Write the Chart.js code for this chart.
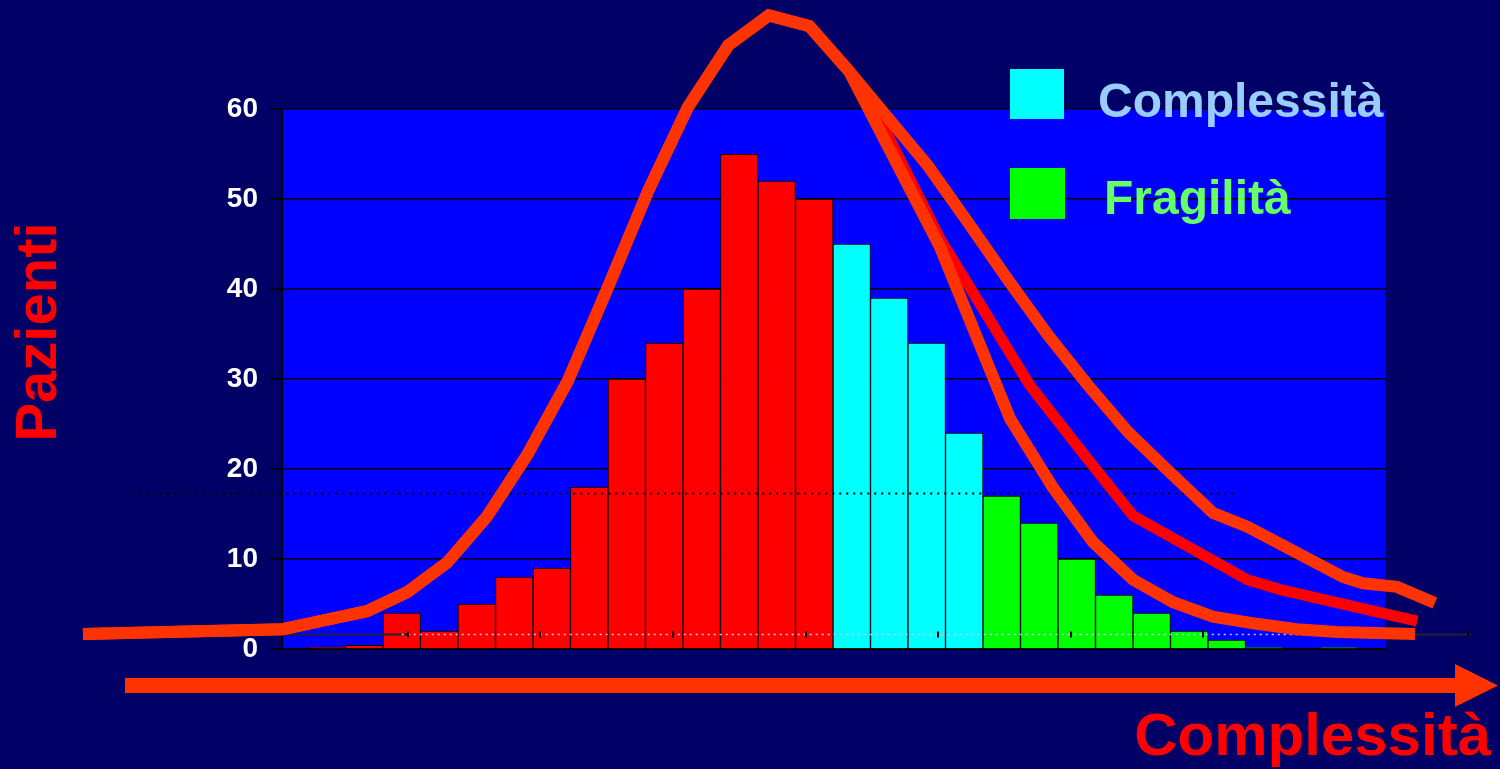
<!DOCTYPE html>
<html>
<head>
<meta charset="utf-8">
<script src="https://cdn.jsdelivr.net/npm/chart.js@4.4.1/dist/chart.umd.min.js"></script>
<style>
  html, body { margin: 0; padding: 0; background: #000066; overflow: hidden; }
  #wrap { position: relative; width: 1500px; height: 769px; }
</style>
</head>
<body>
<div id="wrap"><canvas id="chart"></canvas></div>
<script>
// Classi di complessità (una barra per classe)
const classi = [0, 1, 2, 3, 4, 5, 6, 7, 8, 9, 10, 11, 12, 13, 14, 15, 16, 17, 18, 19, 20, 21, 22, 23, 24, 25, 26, 27];

// Numero di pazienti per classe, diviso per gruppo
const pazientiBase =       [0.2, 0.4, 4, 2, 5, 8, 9, 18, 30, 34, 40, 55, 52, 50, null, null, null, null, null, null, null, null, null, null, null, null, null, null];
const pazientiComplessita = [null, null, null, null, null, null, null, null, null, null, null, null, null, null, 45, 39, 34, 24, null, null, null, null, null, null, null, null, null, null];
const pazientiFragilita =   [null, null, null, null, null, null, null, null, null, null, null, null, null, null, null, null, null, null, 17, 14, 10, 6, 4, 2, 1, 0.15, 0, 0.15];

// Tratto comune delle tre curve (salita e picco)
const curvaComuneX = [-6.5, -1.17, -0.05, 1.07, 2.14, 3.21, 4.27, 5.35, 6.43, 7.5, 8.57, 9.63, 10.71, 11.79, 12.87, 13.93];
const curvaComuneY = [1.67, 2.2, 3.2, 4.2, 6.3, 9.6, 14.7, 21.6, 29.8, 40.2, 50.9, 60.2, 67.1, 70.4, 69.2, 64.2];

// Discese: curva esterna, curva intermedia, curva interna
const discesaEsternaX = [14.97, 16.03, 17.1, 18.17, 19.23, 20.3, 21.37, 22.44, 23.64, 24.55, 27.1, 27.63, 28.54, 29.55];
const discesaEsternaY = [59.0, 53.7, 47.4, 41.0, 34.9, 29.3, 24.1, 19.8, 15.1, 13.6, 8.0, 7.3, 6.9, 5.1];
const discesaMediaX = [14.92, 16.35, 18.75, 20.27, 21.5, 24.55, 25.43, 29.08];
const discesaMediaY = [57.4, 45.6, 29.3, 21.2, 14.8, 7.7, 6.6, 3.1];
const discesaInternaX = [14.97, 16.35, 18.22, 19.37, 20.43, 21.5, 22.57, 23.63, 24.8, 25.87, 26.94, 29.02];
const discesaInternaY = [55.8, 44.7, 25.6, 17.9, 11.9, 7.7, 5.2, 3.6, 2.8, 2.2, 1.9, 1.67];

// Tacche dell'asse verticale
const tickPazienti = [0, 10, 20, 30, 40, 50, 60];

const toPoints = (xs, ys) => xs.map((x, i) => ({ x: x, y: ys[i] })).filter(p => p.y !== null);

const FONT = '"Liberation Sans", Arial, Helvetica, sans-serif';
const X_MIN = -1.193, X_MAX = 28.22;

// Sfondo, linee di riferimento, legenda, titoli e freccia
const decorazioni = {
  id: 'decorazioni',
  beforeDraw(chart) {
    const { ctx, chartArea: a } = chart;
    ctx.save();
    ctx.fillStyle = '#000066';
    ctx.fillRect(0, 0, chart.width, chart.height);
    ctx.fillStyle = '#0000FF';
    ctx.fillRect(a.left, a.top, a.right - a.left, a.bottom - a.top);
    ctx.restore();
    chart.$riferimenti = false;
  },
  beforeDatasetDraw(chart, args) {
    if (args.meta.type !== 'line' || chart.$riferimenti) return;
    chart.$riferimenti = true;
    const { ctx } = chart;
    const xs = chart.scales.x, ys = chart.scales.y;
    ctx.save();
    // linea punteggiata scura
    const yNera = Math.round(ys.getPixelForValue(17.3)) + 0.5;
    ctx.strokeStyle = '#000000';
    ctx.lineWidth = 2;
    ctx.setLineDash([2, 5]);
    ctx.beginPath();
    ctx.moveTo(xs.getPixelForValue(-5.0), yNera);
    ctx.lineTo(xs.getPixelForValue(24.2), yNera);
    ctx.stroke();
    // linea di base chiara
    const yBase = Math.round(ys.getPixelForValue(1.67)) + 0.5;
    ctx.setLineDash([]);
    ctx.strokeStyle = '#222233';
    ctx.lineWidth = 2;
    ctx.beginPath();
    ctx.moveTo(xs.getPixelForValue(X_MIN), yBase);
    ctx.lineTo(xs.getPixelForValue(2.17), yBase);
    ctx.moveTo(xs.getPixelForValue(29.0), yBase);
    ctx.lineTo(xs.getPixelForValue(30.5), yBase);
    ctx.stroke();
    ctx.strokeStyle = '#C8C8E0';
    ctx.lineWidth = 1.5;
    ctx.setLineDash([2, 4]);
    ctx.beginPath();
    ctx.moveTo(xs.getPixelForValue(2.0), yBase);
    ctx.lineTo(xs.getPixelForValue(29.0), yBase);
    ctx.stroke();
    ctx.setLineDash([]);
    ctx.strokeStyle = '#000000';
    ctx.lineWidth = 2;
    ctx.beginPath();
    [2.17, 5.7, 9.24, 12.77, 16.3, 19.84, 23.37, 26.9, 30.44].forEach(v => {
      const px = Math.round(xs.getPixelForValue(v));
      ctx.moveTo(px, yBase - 3);
      ctx.lineTo(px, yBase + 3);
    });
    ctx.stroke();
    ctx.restore();
  },
  afterDraw(chart) {
    const { ctx } = chart;
    ctx.save();
    // legenda
    const voci = [
      { ds: chart.data.datasets[4], box: [1010, 69, 54, 50], tx: 1098, ty: 117, colore: '#99CCFF' },
      { ds: chart.data.datasets[5], box: [1010, 168, 55, 51], tx: 1104, ty: 214, colore: '#66FF66' }
    ];
    ctx.font = 'bold 48px ' + FONT;
    ctx.textBaseline = 'alphabetic';
    ctx.textAlign = 'left';
    voci.forEach(v => {
      ctx.fillStyle = v.ds.backgroundColor;
      ctx.fillRect(v.box[0], v.box[1], v.box[2], v.box[3]);
      ctx.fillStyle = v.colore;
      ctx.fillText(v.ds.label, v.tx, v.ty);
    });
    // titolo asse verticale
    ctx.save();
    ctx.translate(56, 332);
    ctx.rotate(-Math.PI / 2);
    ctx.font = 'bold 58px ' + FONT;
    ctx.fillStyle = '#FF0000';
    ctx.textAlign = 'center';
    ctx.fillText('Pazienti', 0, 0);
    ctx.restore();
    // freccia dell'asse orizzontale
    ctx.fillStyle = '#FF3300';
    ctx.fillRect(125, 678, 1332, 15);
    ctx.beginPath();
    ctx.moveTo(1455, 664);
    ctx.lineTo(1498, 685.5);
    ctx.lineTo(1455, 707);
    ctx.closePath();
    ctx.fill();
    // titolo asse orizzontale
    ctx.font = 'bold 60px ' + FONT;
    ctx.fillStyle = '#FF0000';
    ctx.textAlign = 'right';
    ctx.fillText('Complessità', 1491, 755);
    ctx.restore();
  }
};

const lineaBase = {
  type: 'line',
  pointRadius: 0,
  pointHoverRadius: 0,
  tension: 0,
  fill: false,
  clip: false,
  borderCapStyle: 'butt',
  borderJoinStyle: 'miter'
};
const barraBase = {
  type: 'bar',
  barPercentage: 1,
  categoryPercentage: 1,
  borderColor: '#000000',
  borderWidth: 1
};

new Chart(document.getElementById('chart'), {
  type: 'bar',
  data: {
    datasets: [
      Object.assign({}, lineaBase, {
        label: 'Curva esterna',
        data: toPoints(curvaComuneX.concat(discesaEsternaX), curvaComuneY.concat(discesaEsternaY)),
        borderColor: '#FF3300', borderWidth: 12, order: 1
      }),
      Object.assign({}, lineaBase, {
        label: 'Curva interna',
        data: toPoints(curvaComuneX.concat(discesaInternaX), curvaComuneY.concat(discesaInternaY)),
        borderColor: '#FF3300', borderWidth: 12, order: 2
      }),
      Object.assign({}, lineaBase, {
        label: 'Curva intermedia',
        data: toPoints(curvaComuneX.concat(discesaMediaX), curvaComuneY.concat(discesaMediaY)),
        borderColor: '#FF0000', borderWidth: 11, order: 3
      }),
      Object.assign({}, barraBase, {
        label: 'Pazienti',
        data: toPoints(classi, pazientiBase),
        backgroundColor: '#FF0000', order: 10
      }),
      Object.assign({}, barraBase, {
        label: 'Complessità',
        data: toPoints(classi, pazientiComplessita),
        backgroundColor: '#00FFFF', order: 11
      }),
      Object.assign({}, barraBase, {
        label: 'Fragilità',
        data: toPoints(classi, pazientiFragilita),
        backgroundColor: '#00FF00', order: 12
      })
    ]
  },
  options: {
    responsive: true,
    maintainAspectRatio: false,
    animation: false,
    events: [],
    layout: { padding: { left: 0, top: 109, right: 115, bottom: 120 } },
    plugins: {
      legend: { display: false },
      tooltip: { enabled: false }
    },
    scales: {
      x: {
        type: 'linear',
        bounds: 'data',
        offset: false,
        stacked: true,
        afterDataLimits: s => { s.min = X_MIN; s.max = X_MAX; },
        afterBuildTicks: s => { s.ticks = classi.map(v => ({ value: v })); },
        afterFit: s => { s.height = 0; },
        ticks: { display: false },
        grid: { display: false, offset: false },
        border: { display: true, color: '#000000', width: 2 }
      },
      y: {
        stacked: false,
        min: tickPazienti[0],
        max: tickPazienti[tickPazienti.length - 1],
        afterFit: s => { s.width = 282; },
        afterBuildTicks: s => { s.ticks = tickPazienti.map(v => ({ value: v })); },
        ticks: {
          color: '#FFFFFF',
          padding: 12,
          font: { family: FONT, size: 28, weight: 'bold' }
        },
        grid: { color: '#000000', lineWidth: 1.5, tickLength: 12, drawTicks: true },
        border: { display: true, color: '#000000', width: 2 }
      }
    }
  },
  plugins: [decorazioni]
});
</script>
</body>
</html>
